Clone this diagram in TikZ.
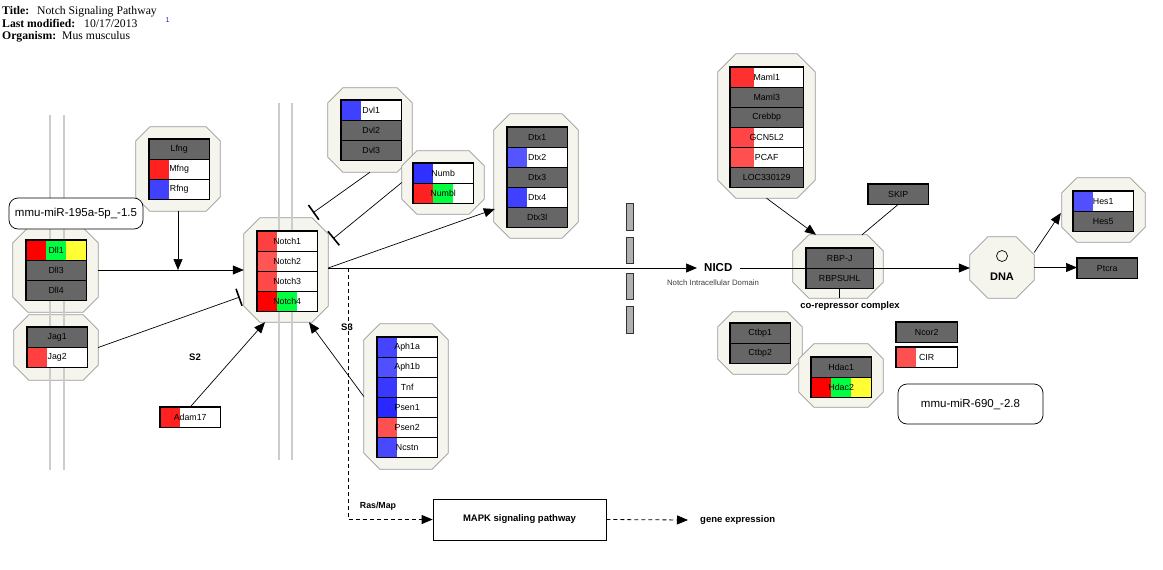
\documentclass[tikz,border=0pt]{standalone}
\usepackage{fontspec}
\setmainfont{Liberation Sans}
\newfontfamily\seriffont{Liberation Serif}
\usetikzlibrary{arrows.meta,calc,fit}
\definecolor{boxgray}{HTML}{666666}
\definecolor{octfill}{HTML}{F5F5EE}
\definecolor{octline}{HTML}{999999}
\definecolor{memb}{HTML}{CCCCCC}
\definecolor{barfill}{HTML}{B0B0B0}
\definecolor{rA}{HTML}{FF2020}
\definecolor{rB}{HTML}{FF4040}
\definecolor{rC}{HTML}{FF5555}
\definecolor{rD}{HTML}{FF4848}
\definecolor{rE}{HTML}{FF0000}
\definecolor{rF}{HTML}{FF3030}
\definecolor{rG}{HTML}{FF4545}
\definecolor{rH}{HTML}{FF5050}
\definecolor{bA}{HTML}{4040FF}
\definecolor{bB}{HTML}{3030FF}
\definecolor{bC}{HTML}{5555FF}
\definecolor{bD}{HTML}{4545FF}
\definecolor{bE}{HTML}{5050FF}
\definecolor{bF}{HTML}{3838FF}
\definecolor{bG}{HTML}{2828FF}
\definecolor{bH}{HTML}{4848FF}
\definecolor{gA}{HTML}{00FF40}
\definecolor{yA}{HTML}{FFFF33}
\definecolor{supblue}{HTML}{2020C0}
\tikzset{
  octstyle/.style={fill=octfill, draw=octline, line width=0.8pt},
  genefont/.style={font=\fontsize{8.8}{10}\selectfont},
  grayrowst/.style={draw=black, fill=boxgray, minimum height=20pt, inner sep=0pt, anchor=north west, genefont},
  whiterowst/.style={draw=black, fill=white, minimum height=20pt, inner sep=0pt, anchor=north west},
  lbl/.style={inner sep=0pt, genefont},
  tbl/.style={draw=black, line width=1.3pt},
  arr/.style={-{Triangle[length=11pt,width=9pt]}, line width=0.7pt},
  inh/.style={-{Bar[width=18pt,line width=1.6pt]}, line width=0.7pt},
  plainline/.style={line width=0.7pt},
  membrane/.style={draw=memb, line width=2.5pt},
  lbold/.style={font=\bfseries\fontsize{9.5}{11}\selectfont, inner sep=0pt},
  mir/.style={draw=black, fill=white, rounded corners=9pt, line width=0.7pt, inner sep=0pt, font=\fontsize{11.5}{13}\selectfont},
  titlebold/.style={anchor=base west, inner sep=0pt, font=\seriffont\bfseries\fontsize{11.7}{13}\selectfont},
  titleval/.style={anchor=base west, inner sep=0pt, font=\seriffont\fontsize{11.7}{13}\selectfont},
  dashedarr/.style={arr, line width=0.8pt, dash pattern=on 4pt off 3pt},
  mbar/.style={fill=barfill, draw=black!80, line width=0.6pt},
}
\newcommand{\octagroup}[6]{%
  \node[fit={(#2,#3) (#4,#5)}, inner sep=0pt, draw=none] (#1) {};
  \filldraw[octstyle] ($(#1.north west)+(#6,0)$) -- ($(#1.north east)+(-#6,0)$)
    -- ($(#1.north east)+(0,#6)$) -- ($(#1.south east)+(0,-#6)$)
    -- ($(#1.south east)+(-#6,0)$) -- ($(#1.south west)+(#6,0)$)
    -- ($(#1.south west)+(0,-#6)$) -- ($(#1.north west)+(0,#6)$) -- cycle;}
\newcommand{\grayrow}[5]{\node[grayrowst, minimum width=#4pt] (#1) at (#2,#3) {#5};}
\newcommand{\colrow}[8]{%
  \node[whiterowst, minimum width=#4pt] (#1) at (#2,#3) {};
  \fill[#6] (#2,#3) rectangle ++(#4/3,20);
  \fill[#7] (#2+#4/3,#3) rectangle ++(#4/3,20);
  \fill[#8] (#2+2*#4/3,#3) rectangle ++(#4/3,20);
  \draw (#1.north west) rectangle (#1.south east);
  \node[lbl] (#1-t) at (#1.center) {#5};}
\newcommand{\tframe}[2]{\draw[tbl] (#1.north west) rectangle (#2.south east);}
\begin{document}
\begin{tikzpicture}[x=1pt,y=-1pt]
\useasboundingbox (0,0) rectangle (1163,570);
\fill[white] (0,0) rectangle (1163,570);

% title block
\node[titlebold] (t1) at (2,14) {Title:};
\node[titleval] (t1v) at (37,14) {Notch Signaling Pathway};
\node[titlebold] (t2) at (2,27.3) {Last modified:};
\node[titleval] (t2v) at (84,27.3) {10/17/2013};
\node[titlebold] (t3) at (2,39.5) {Organism:};
\node[titleval] (t3v) at (62,39.5) {Mus musculus};
\node[inner sep=0pt, text=supblue, font=\fontsize{7}{8}\selectfont] (sup1) at (167.5,20.5) {1};

% group octagons
\octagroup{lfng}{136}{127}{220}{211}{14}
\octagroup{dll}{13}{228}{98}{312}{15}
\octagroup{jag}{14}{315}{98}{380}{15}
\octagroup{notch}{244}{218}{328}{322}{16}
\octagroup{dvl}{328}{88}{412}{172}{15}
\octagroup{numb}{402}{151}{484}{214}{15}
\octagroup{dtx}{494}{114}{578}{238}{16}
\octagroup{sec}{364}{324}{448}{469}{16}
\octagroup{maml}{718}{54}{815}{198}{18}
\octagroup{rbp}{793}{235}{883}{298}{16}
\octagroup{ctbp}{718}{312}{802}{374}{15}
\octagroup{hdac}{799}{344}{883}{407}{15}
\octagroup{dna}{970}{237}{1034}{298}{18}
\octagroup{hes}{1062}{178}{1145}{242}{15}

% membranes
\draw[membrane] (50,115) -- (50,470);
\draw[membrane] (64,115) -- (64,470);
\draw[membrane] (279,103) -- (279,460);
\draw[membrane] (292,103) -- (292,460);

% nuclear membrane bars
\draw[mbar] (626,203) rectangle (633,230);
\draw[mbar] (626,237) rectangle (633,263);
\draw[mbar] (626,273) rectangle (633,299);
\draw[mbar] (626,306) rectangle (633,333);

% tables
\grayrow{glfng}{149}{139}{60}{Lfng}
\colrow{gmfng}{149}{159}{60}{Mfng}{rA}{white}{white}
\colrow{grfng}{149}{179}{60}{Rfng}{bA}{white}{white}
\tframe{glfng}{grfng}

\colrow{gdll1}{26}{240}{60}{Dll1}{rE}{gA}{yA}
\grayrow{gdll3}{26}{260}{60}{Dll3}
\grayrow{gdll4}{26}{280}{60}{Dll4}
\tframe{gdll1}{gdll4}

\grayrow{gjag1}{27}{327}{60}{Jag1}
\colrow{gjag2}{27}{347}{60}{Jag2}{rB}{white}{white}
\tframe{gjag1}{gjag2}

\colrow{gnotch1}{257}{231}{60}{Notch1}{rB}{white}{white}
\colrow{gnotch2}{257}{251}{60}{Notch2}{rC}{white}{white}
\colrow{gnotch3}{257}{271}{60}{Notch3}{rD}{white}{white}
\colrow{gnotch4}{257}{291}{60}{Notch4}{rE}{gA}{white}
\tframe{gnotch1}{gnotch4}

\colrow{gdvl1}{341}{100}{60}{Dvl1}{bA}{white}{white}
\grayrow{gdvl2}{341}{120}{60}{Dvl2}
\grayrow{gdvl3}{341}{140}{60}{Dvl3}
\tframe{gdvl1}{gdvl3}

\colrow{gnumb}{413}{163}{60}{Numb}{bB}{white}{white}
\colrow{gnumbl}{413}{183}{60}{Numbl}{rA}{gA}{white}
\tframe{gnumb}{gnumbl}

\grayrow{gdtx1}{507}{127}{60}{Dtx1}
\colrow{gdtx2}{507}{147}{60}{Dtx2}{bC}{white}{white}
\grayrow{gdtx3}{507}{167}{60}{Dtx3}
\colrow{gdtx4}{507}{187}{60}{Dtx4}{bA}{white}{white}
\grayrow{gdtx3l}{507}{207}{60}{Dtx3l}
\tframe{gdtx1}{gdtx3l}

\colrow{gaph1a}{377}{337}{60}{Aph1a}{bD}{white}{white}
\colrow{gaph1b}{377}{357}{60}{Aph1b}{bE}{white}{white}
\colrow{gtnf}{377}{377}{60}{Tnf}{bF}{white}{white}
\colrow{gpsen1}{377}{397}{60}{Psen1}{bG}{white}{white}
\colrow{gpsen2}{377}{417}{60}{Psen2}{rH}{white}{white}
\colrow{gncstn}{377}{437}{60}{Ncstn}{bH}{white}{white}
\tframe{gaph1a}{gncstn}

\colrow{gmaml1}{730}{67}{73}{Maml1}{rF}{white}{white}
\grayrow{gmaml3}{730}{87}{73}{Maml3}
\grayrow{gcrebbp}{730}{107}{73}{Crebbp}
\colrow{ggcn}{730}{127}{73}{GCN5L2}{rG}{white}{white}
\colrow{gpcaf}{730}{147}{73}{PCAF}{rH}{white}{white}
\grayrow{gloc}{730}{167}{73}{LOC330129}
\tframe{gmaml1}{gloc}

\grayrow{grbpj}{806}{248}{67}{RBP-J}
\grayrow{grbpsuhl}{806}{268}{67}{RBPSUHL}
\tframe{grbpj}{grbpsuhl}

\grayrow{gctbp1}{730}{323}{60}{Ctbp1}
\grayrow{gctbp2}{730}{343}{60}{Ctbp2}
\tframe{gctbp1}{gctbp2}

\grayrow{ghdac1}{811}{357}{60}{Hdac1}
\colrow{ghdac2}{811}{377}{60}{Hdac2}{rE}{gA}{yA}
\tframe{ghdac1}{ghdac2}

\colrow{ghes1}{1073}{191}{60}{Hes1}{bE}{white}{white}
\grayrow{ghes5}{1073}{211}{60}{Hes5}
\tframe{ghes1}{ghes5}

% single boxes
\colrow{adam}{160}{407}{60}{Adam17}{rA}{white}{white}
\tframe{adam}{adam}
\grayrow{skip}{868}{184}{60}{SKIP}
\tframe{skip}{skip}
\grayrow{ncor}{896}{322}{61}{Ncor2}
\tframe{ncor}{ncor}
\colrow{cir}{896}{347}{61}{CIR}{rH}{white}{white}
\tframe{cir}{cir}
\grayrow{ptcra}{1077}{258}{60}{Ptcra}
\tframe{ptcra}{ptcra}

% miRNA labels
\node[mir, minimum width=134pt, minimum height=31pt] (mir195) at (76,213.5) {mmu-miR-195a-5p\_-1.5};
\node[mir, minimum width=145pt, minimum height=40pt] (mir690) at (970.5,404) {mmu-miR-690\_-2.8};

% DNA
\node[circle, draw=black, line width=0.7pt, minimum size=11pt, inner sep=0pt] (dnacirc) at (1002,256) {};
\node[inner sep=0pt, font=\bfseries\fontsize{11}{13}\selectfont] (dnalbl) at (1002,277) {DNA};

% other labels
\node[lbold] (s2) at (195,357) {S2};
\node[lbold] (s3) at (347,327) {S3};
\node[lbold, font=\bfseries\fontsize{8.8}{10}\selectfont] (rasmap) at (378,506) {Ras/Map};
\node[font=\bfseries\fontsize{11.5}{13}\selectfont, inner xsep=7pt, inner ysep=0pt, anchor=west] (nicd) at (697,268) {NICD};
\node[font=\fontsize{7.8}{9}\selectfont, text=black!75, inner sep=0pt] (nicdsub) at (713,283) {Notch Intracellular Domain};
\node[lbold] (corep) at (850,306) {co-repressor complex};
\node[draw=black, fill=white, line width=0.7pt, minimum width=173pt, minimum height=41pt, lbold] (mapk) at (519.5,519.5) {MAPK signaling pathway};
\node[lbold, anchor=west, inner xsep=12pt] (geneexp) at (688,520) {gene expression};

% coordinates for free ends
\coordinate (jagT) at ($(notch.west)+(-4,27)$);
\coordinate (dvlT) at ($(notch.north)+(27,-5)$);
\coordinate (numbT) at ($(notch.north)+(47,21)$);
\coordinate (dtxT) at ($(dtx.west)+(1,33)$);
\coordinate (s3start) at (348,268);

% connectors
\draw[arr] (dll.east) -- (dll.east -| notch.west);
\draw[arr] (lfng.south) -- (lfng.south |- dll.east);
\draw[inh] (jag.east) -- (jagT);
\draw[inh] (dvl.south) -- (dvlT);
\draw[inh] (numb.west) -- (numbT);
\draw[arr] ($(notch.east)+(0,-2)$) -- (dtxT);
\draw[arr] ($(notch.east)+(0,-2)$) -- (nicd.west);
\draw[arr] (nicd.east) -- (nicd.east -| dna.west);
\draw[arr] (maml.south) -- ($(rbp.north)+(-22,0)$);
\draw[plainline] (skip.south) -- ($(rbp.north)+(24,0)$);
\draw[plainline] (grbpsuhl.south) -- (grbpsuhl.south |- rbp.south);
\draw[arr] ($(dna.east)+(0,-15)$) -- ($(hes.west)+(-1,3)$);
\draw[arr] (dna.east) -- (dna.east -| ptcra.west);
\draw[arr] (sec.west) -- ($(notch.south)+(23,0)$);
\draw[arr] (adam.north) -- ($(notch.south)+(-21,0)$);
\draw[dashedarr] (s3start) |- (mapk.west);
\draw[dashedarr] (mapk.east) -- (geneexp.west);
\end{tikzpicture}
\end{document}
